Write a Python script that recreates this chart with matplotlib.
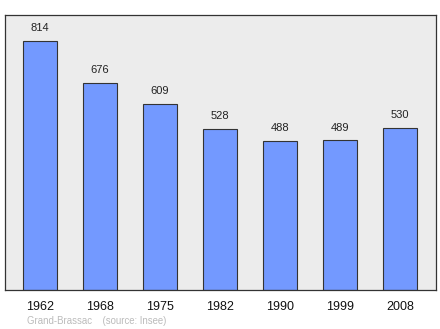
import matplotlib
matplotlib.use('Agg')
import matplotlib.pyplot as plt

plt.rcParams['font.family'] = ['Liberation Sans', 'DejaVu Sans']

# Population data
years = ['1962', '1968', '1975', '1982', '1990', '1999', '2008']
population = [814, 676, 609, 528, 488, 489, 530]

fig = plt.figure(figsize=(4.4, 3.29), dpi=100)
ax = fig.add_axes([0.0114, 0.1185, 0.9796, 0.8355])
ax.set_facecolor('#ececec')

x = range(len(years))
bars = ax.bar(x, population, width=0.57, color='#7399ff', edgecolor='#333333', linewidth=0.8)

for xi, v in zip(x, population):
    ax.text(xi, v + 26, str(v), ha='center', va='bottom', fontsize=8, color='#222222')

ax.set_xlim(-0.58, 6.6)
ax.set_ylim(0, 899)
ax.set_yticks([])
ax.set_xticks(list(x))
ax.set_xticklabels(years, fontsize=9, color='#111111')
ax.tick_params(axis='x', length=0, pad=8)
for s in ax.spines.values():
    s.set_color('#333333')
    s.set_linewidth(0.9)

fig.text(27 / 440, 1 - 321 / 329, 'Grand-Brassac    (source: Insee)', fontsize=6.9,
         color='#bbbbbb', ha='left', va='center')

fig.savefig('out.png', dpi=100)
